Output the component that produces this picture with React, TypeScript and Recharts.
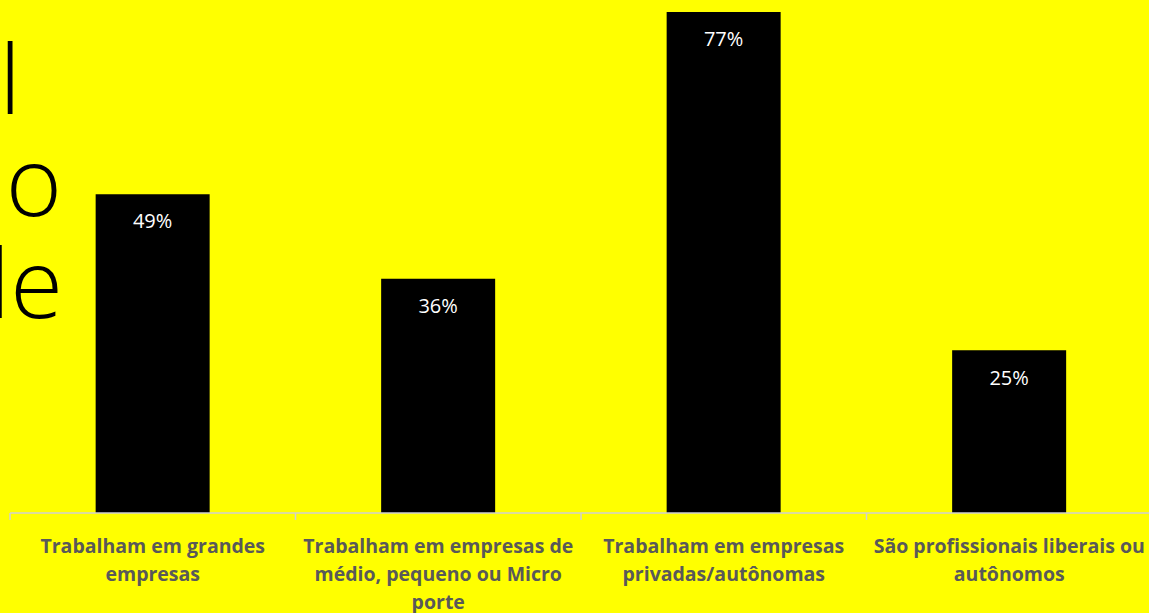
import { BarChart, Bar, XAxis, YAxis, LabelList } from 'recharts';

const categories = [
  'Trabalham em grandes empresas',
  'Trabalham em empresas de médio, pequeno ou Micro porte',
  'Trabalham em empresas privadas/autônomas',
  'São profissionais liberais ou autônomos',
];

// tick labels, broken the way the original wraps them
const tickLines = [
  ['Trabalham em grandes', 'empresas'],
  ['Trabalham em empresas de', 'médio, pequeno ou Micro', 'porte'],
  ['Trabalham em empresas', 'privadas/autônomas'],
  ['São profissionais liberais ou', 'autônomos'],
];

const values = [49, 36, 77, 25];

// fragments of the slide title that sit clipped at the left edge
const titleBits = ['l', 'o', 'le'];

const data = categories.map((name, i) => ({ name, value: values[i] }));

const CHART_W = 1160;
const PLOT_W = 1142;
const BAND = PLOT_W / categories.length;

function CategoryTick(props: any) {
  const { x, y, index } = props;
  const lines = tickLines[index] ?? [];
  return (
    <g>
      <line x1={x - BAND / 2} x2={x - BAND / 2} y1={y - 7} y2={y} stroke="#d0d0d0" strokeWidth={1.5} />
      {index === categories.length - 1 && (
        <line x1={x + BAND / 2} x2={x + BAND / 2} y1={y - 7} y2={y} stroke="#d0d0d0" strokeWidth={1.5} />
      )}
      <text
        x={x}
        y={y}
        textAnchor="middle"
        fill="#595959"
        fontFamily="'Open Sans', sans-serif"
        fontWeight={700}
        fontSize={19.5}
      >
        {lines.map((l, i) => (
          <tspan key={i} x={x} y={y + 33 + i * 28}>
            {l}
          </tspan>
        ))}
      </text>
    </g>
  );
}

export default function App() {
  return (
    <div
      style={{
        position: 'fixed',
        left: 0,
        top: 0,
        width: 1149,
        height: 613,
        overflow: 'hidden',
        background: '#ffff00',
      }}
    >
      <svg width={200} height={400} style={{ position: 'absolute', left: 0, top: 0 }}>
        {titleBits.map((t, i) => (
          <text
            key={i}
            x={[21, 62, 63][i]}
            y={114 + i * 102}
            textAnchor="end"
            fontFamily="'Open Sans', sans-serif"
            fontWeight={300}
            fontSize={96}
            fill="#000"
          >
            {t}
          </text>
        ))}
      </svg>
      <div style={{ position: 'absolute', left: 0, top: 0 }}>
        <BarChart
          width={CHART_W}
          height={613}
          data={data}
          margin={{ top: 12, right: CHART_W - 10 - PLOT_W, bottom: 0, left: 10 }}
          barCategoryGap="30%"
        >
          <XAxis
            dataKey="name"
            interval={0}
            height={100}
            tickSize={7}
            tickMargin={0}
            tickLine={false}
            axisLine={{ stroke: '#d0d0d0', strokeWidth: 1.5 }}
            tick={<CategoryTick />}
          />
          <YAxis hide domain={[0, 77]} />
          <Bar dataKey="value" fill="#000000" isAnimationActive={false}>
            <LabelList
              dataKey="value"
              position="insideTop"
              offset={20}
              formatter={(v: any) => `${v}%`}
              fill="#ffffff"
              fontSize={20}
              fontFamily="'Open Sans', sans-serif"
            />
          </Bar>
        </BarChart>
      </div>
    </div>
  );
}
